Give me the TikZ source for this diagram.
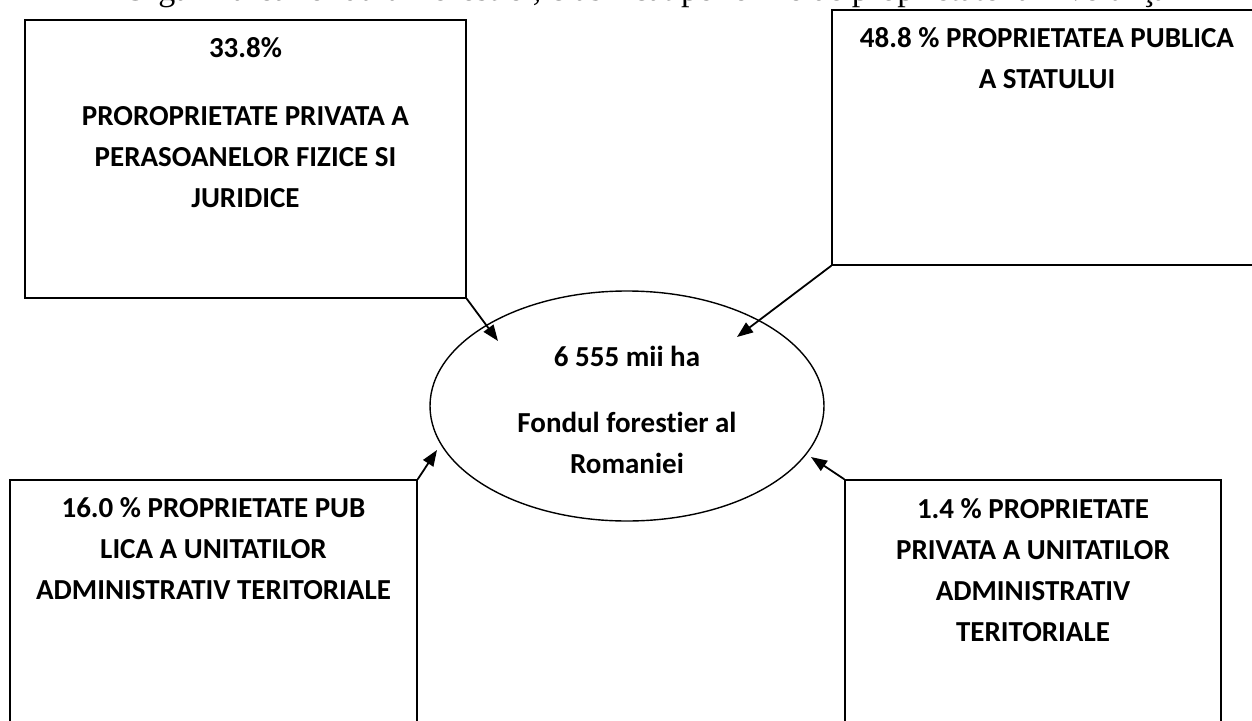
\documentclass[tikz,border=0pt]{standalone}
\usepackage{fontspec}
\setmainfont{Carlito}[Ligatures=NoCommon]
\newfontfamily\titlufont{Liberation Serif}
\usetikzlibrary{shapes.geometric}
\usetikzlibrary{arrows.meta}
\tikzset{
  Caseta/.style={draw, line width=1.5pt, rectangle, inner sep=0pt}, % casete
  Cerc/.style={draw, line width=1.4pt, ellipse, inner sep=0pt}, % elipsa din mijloc
  Text/.style={align=center, inner sep=0pt, anchor=base,
    font=\bfseries\fontsize{29}{41}\selectfont}, % texte (ancora = ultimul rand)
  Sageata/.style={line width=1.8pt, ->} % sageti
}

\begin{document}
\begin{tikzpicture}[x=1pt, y=-1pt,
>={Triangle[length=16pt, width=12pt]} % varfuri de sageata
]
\useasboundingbox (0,0) rectangle (1252,720);

%Titlu (taiat sus)
\node[anchor=base west, inner sep=0pt, font=\titlufont\fontsize{34}{40}\selectfont] (Titlu)
  at (123,1) {Organizarea fondului forestier, clasificat pe forme de proprietate la nivelul ţării};

%Casete
\node[Caseta, minimum width=441pt, minimum height=278pt] (PPF) at (245.5,159) {};
\node[Caseta, minimum width=433pt, minimum height=255pt] (PPS) at (1048.5,137.5) {};
\node[Caseta, minimum width=407pt, minimum height=260pt] (PPU) at (213.5,610) {};
\node[Caseta, minimum width=376pt, minimum height=260pt] (PRU) at (1033,610) {};
\node[Cerc, minimum width=394pt, minimum height=230pt] (Fond) at (627,406) {};

%Texte
\node[Text] (tPPF) at ([yshift=-188pt]PPF.north)
  {33.8\%\\[27pt]PROROPRIETATE PRIVATA A\\PERASOANELOR FIZICE SI\\JURIDICE};
\node[Text] (tPPS) at ([xshift=-1.5pt, yshift=-79pt]PPS.north)
  {48.8 \% PROPRIETATEA PUBLICA\\A STATULUI};
\node[Text] (tPPU) at ([yshift=-120pt]PPU.north)
  {16.0 \% PROPRIETATE PUB\\LICA A UNITATILOR\\ADMINISTRATIV TERITORIALE};
\node[Text] (tPRU) at ([yshift=-162pt]PRU.north)
  {1.4 \% PROPRIETATE\\PRIVATA A UNITATILOR\\ADMINISTRATIV\\TERITORIALE};
\node[Text] (tFond) at ([yshift=-67pt]Fond.center)
  {6 555 mii ha\\[25pt]Fondul forestier al\\Romaniei};

%Varfuri pe elipsa
\coordinate (vPPF) at (498,341);
\coordinate (vPPS) at (737,337);
\coordinate (vPPU) at (437,450);
\coordinate (vPRU) at (811,457);

%Sageti
\draw[Sageata] (PPF.south east) -- (vPPF);
\draw[Sageata] (PPS.south west) -- (vPPS);
\draw[Sageata] (PPU.north east) -- (vPPU);
\draw[Sageata] (PRU.north west) -- (vPRU);

\end{tikzpicture}
\end{document}
